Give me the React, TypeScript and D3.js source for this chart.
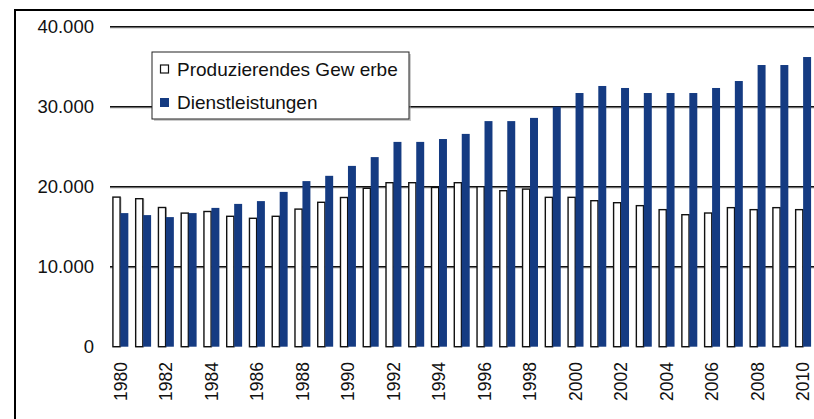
import React from "react";
import * as d3 from "d3";

const years = d3.range(1980, 2011).map(String);
const produzierend = [
  18.7, 18.5, 17.4, 16.7, 16.9, 16.3, 16.05, 16.3, 17.2, 18.05,
  18.65, 19.8, 20.5, 20.5, 19.9, 20.5, 20.0, 19.5, 19.7, 18.67,
  18.67, 18.25, 18.0, 17.63, 17.13, 16.5, 16.71, 17.38, 17.13, 17.38, 17.13,
].map((v) => v * 1000);
const dienst = [
  16.7, 16.45, 16.2, 16.7, 17.35, 17.85, 18.2, 19.35, 20.7, 21.36,
  22.6, 23.7, 25.6, 25.6, 25.96, 26.6, 28.2, 28.2, 28.6, 30.0,
  31.71, 32.59, 32.34, 31.71, 31.71, 31.71, 32.34, 33.21, 35.21, 35.21, 36.21,
].map((v) => v * 1000);
const yTicks = [0, 10000, 20000, 30000, 40000];
const seriesNames = ["Produzierendes Gew erbe", "Dienstleistungen"];
const blue = "#153b82";

const fmt = (v: number) => (v === 0 ? "0" : d3.format(",")(v).replace(/,/g, "."));

export default function App() {
  const x = d3.scaleBand<string>().domain(years).range([109, 814.5]).paddingInner(0.3).paddingOuter(0.15);
  const xs = d3.scaleBand<string>().domain(["p", "d"]).range([0, x.bandwidth()]);
  const y = d3.scaleLinear().domain([0, 40000]).range([346.7, 26.7]);
  const font = "Arial, 'Liberation Sans', sans-serif";

  return (
    <svg width={814} height={419} style={{ position: "absolute", left: 0, top: 0, background: "#fff" }} fontFamily={font}>
      <rect x={0} y={0} width={814} height={419} fill="#fff" />
      {/* frame */}
      <line x1={15} x2={814} y1={10} y2={10} stroke="#000" strokeWidth={2} />
      <line x1={15} x2={15} y1={9} y2={419} stroke="#000" strokeWidth={2} />
      {/* gridlines */}
      {yTicks.filter((t) => t > 0).map((t) => (
        <g key={t}>
          <line x1={110} x2={814} y1={y(t) + 1.2} y2={y(t) + 1.2} stroke="#aaa" strokeWidth={1} />
          <line x1={110} x2={814} y1={y(t)} y2={y(t)} stroke="#111" strokeWidth={1.6} />
        </g>
      ))}
      {/* y labels */}
      {yTicks.map((t) => (
        <text key={t} x={94} y={y(t)} dy="0.36em" textAnchor="end" fontSize={18.5} fill="#111">
          {fmt(t)}
        </text>
      ))}
      {/* bars */}
      {years.map((yr, i) => {
        const x0 = x(yr)!;
        const pw = xs.bandwidth();
        return (
          <g key={yr}>
            <rect x={x0 + xs("p")! + 1.3} y={y(produzierend[i]) + 0.8} width={pw - 0.8} height={y(0) - y(produzierend[i]) - 0.8} fill="none" stroke="#bbb" strokeWidth={1.2} />
            <rect x={x0 + xs("p")! + 0.5} y={y(produzierend[i])} width={pw - 0.8} height={y(0) - y(produzierend[i])} fill="#fff" stroke="#111" strokeWidth={1.4} />
            <rect x={x0 + xs("d")!} y={y(dienst[i])} width={pw} height={y(0) - y(dienst[i])} fill={blue} />
          </g>
        );
      })}
      {/* x labels */}
      {years.map((yr, i) =>
        i % 2 === 0 ? (
          <text key={yr} transform={`translate(${x(yr)! + x.bandwidth() / 2},362) rotate(-90)`} dy="0.36em" textAnchor="end" fontSize={17.5} fill="#111">
            {yr}
          </text>
        ) : null
      )}
      {/* legend */}
      <g>
        <rect x={154} y={54} width={257} height={67} fill="#999" opacity={0.5} />
        <rect x={152} y={52} width={257} height={67} fill="#fff" stroke="#222" strokeWidth={1} />
        <rect x={160.5} y={65} width={8} height={8} fill="#fff" stroke="#111" strokeWidth={1.2} />
        <text x={177} y={69} dy="0.36em" fontSize={19} fill="#111">{seriesNames[0]}</text>
        <rect x={160} y={98} width={9} height={9} fill={blue} />
        <text x={177} y={102.5} dy="0.36em" fontSize={19} fill="#111">{seriesNames[1]}</text>
      </g>
    </svg>
  );
}
